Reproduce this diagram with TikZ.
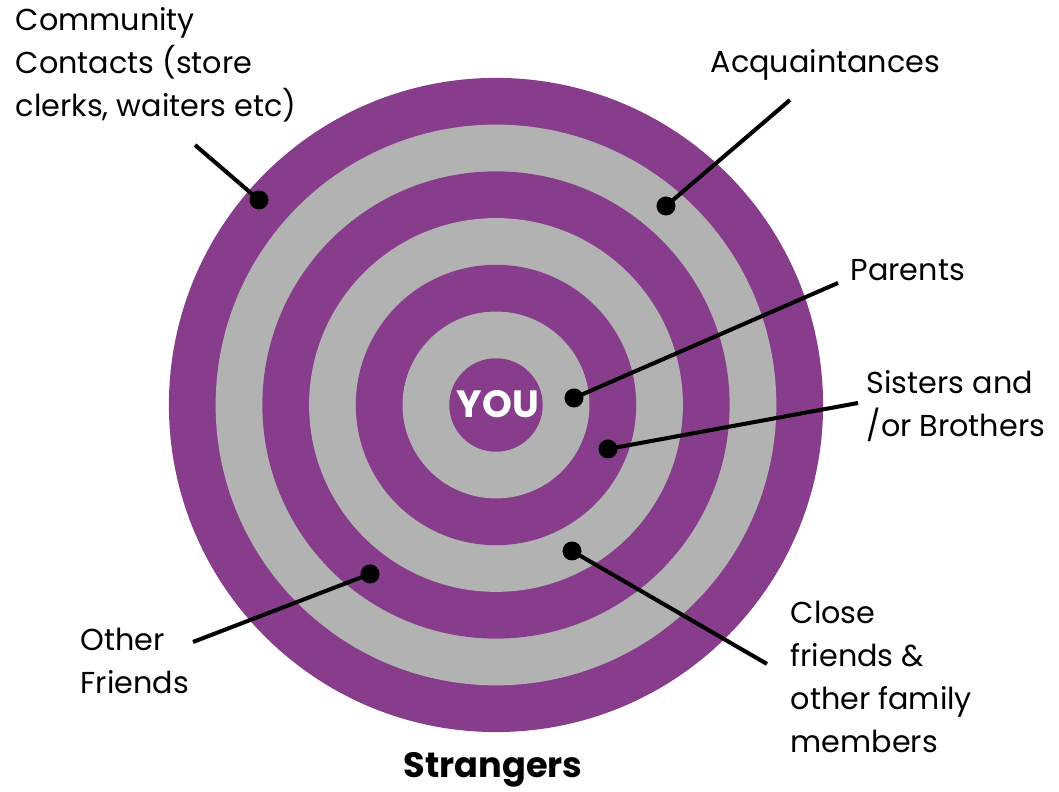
\documentclass[tikz,border=0pt]{standalone}
\usepackage{fontspec}
\setmainfont{Poppins}
\definecolor{ringpurple}{HTML}{883C8C}
\definecolor{ringgray}{HTML}{B2B2B2}
\tikzset{
  dot/.style={circle,fill=black,inner sep=0pt,minimum size=0.19cm},
  lbl/.style={anchor=west,align=left,inner sep=0pt,font=\fontsize{8.6}{12.2}\selectfont},
  lead/.style={line width=1.15pt}
}
\begin{document}
\begin{tikzpicture}[x=0.01cm,y=-0.01cm]
  \useasboundingbox (0,0) rectangle (1059,792);

  % rings, outside in
  \foreach \k in {7,...,1} {
    \pgfmathparse{isodd(\k) ? "ringpurple" : "ringgray"}
    \fill[\pgfmathresult] (496,405) circle[radius=\k*0.467cm];
  }
  \node[text=white,font=\bfseries\fontsize{10.8}{12}\selectfont] (you) at (498,404) {YOU};

  \node[dot] (dcom) at (259,200) {};
  \node[dot] (dacq) at (666,206) {};
  \node[dot] (dpar) at (574,398) {};
  \node[dot] (dsib) at (608,449) {};
  \node[dot] (dclo) at (572,551) {};
  \node[dot] (doth) at (370,574) {};

  \coordinate (ecom) at (195,145);
  \coordinate (eacq) at (790,100);
  \coordinate (epar) at (838,283);
  \coordinate (esib) at (858,403);
  \coordinate (eclo) at (767,664);
  \coordinate (eoth) at (193,642);

  \draw[lead] (dcom.center) -- (ecom);
  \draw[lead] (dacq.center) -- (eacq);
  \draw[lead] (dpar.center) -- (epar);
  \draw[lead] (dsib.center) -- (esib);
  \draw[lead] (dclo.center) -- (eclo);
  \draw[lead] (doth.center) -- (eoth);

  \node[lbl] (tcom) at (15,65) {Community\\Contacts (store\\clerks, waiters etc)};
  \node[lbl] (tacq) at (710,65) {Acquaintances};
  \node[lbl] (tpar) at (850,270) {Parents};
  \node[lbl] (tsib) at (866,406) {Sisters and\\/or Brothers};
  \node[lbl] (tclo) at (790,677) {Close\\friends \&\\other family\\members};
  \node[lbl] (toth) at (80,661) {Other\\Friends};
  \node[font=\bfseries\fontsize{10}{12}\selectfont] (str) at (493,770) {Strangers};
\end{tikzpicture}
\end{document}
